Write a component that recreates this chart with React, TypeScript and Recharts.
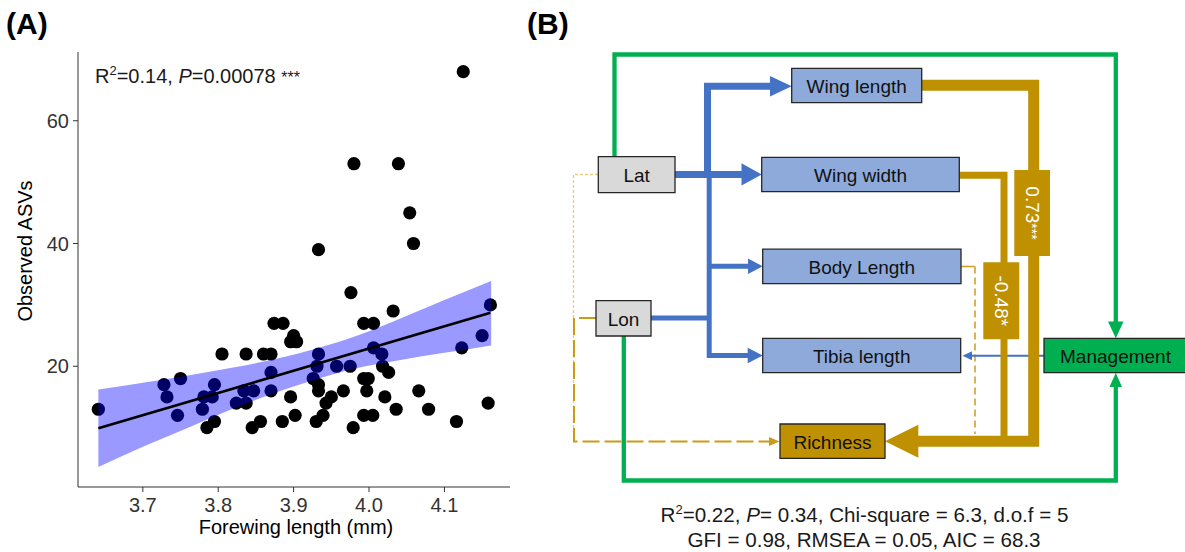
import React from "react";
import { ComposedChart, Scatter, Area, Line, XAxis, YAxis, Surface, Rectangle, Text } from "recharts";

// panel A: observed ASVs vs forewing length
const forewingLength = [
  3.641, 3.728, 3.732, 3.75, 3.746, 3.779, 3.781, 3.792, 3.795, 3.785, 3.795, 3.805,
  3.824, 3.837, 3.834, 3.847, 3.837, 3.845, 3.856, 3.86, 3.87, 3.87, 3.87, 3.874,
  3.886, 3.885, 3.896, 3.9, 3.896, 3.904, 3.902, 3.93, 3.939, 3.933, 3.931, 3.926,
  3.933, 3.933, 3.943, 3.95, 3.957, 3.966, 3.975, 3.976, 3.979, 3.993, 4.006, 3.993,
  3.999, 3.997, 3.993, 4.005, 4.006, 4.017, 4.018, 4.026, 4.021, 4.036, 4.032, 4.066,
  4.079, 4.116, 4.123, 4.15, 4.158, 4.161, 4.125, 3.98, 4.039, 4.054, 4.059, 3.933,
];
const observedAsvs = [
  13, 17, 15, 18, 12, 13, 15, 15, 17, 10, 11, 22,
  14, 14, 16, 16, 22, 10, 11, 22, 22, 19, 16, 27,
  27, 11, 15, 25, 24, 24, 12, 11, 12, 22, 20, 18,
  17, 16, 14, 15, 20, 16, 20, 32, 10, 27, 27, 18,
  18, 16, 12, 12, 23, 22, 20, 19, 15, 13, 29, 16,
  13, 11, 23, 25, 14, 30, 68, 53, 53, 45, 40, 39,
];

// confidence band and fitted line
const bandX = [3.641, 3.7, 3.76, 3.82, 3.88, 3.93, 3.98, 4.04, 4.1, 4.162];
const bandLow = [3.6, 6.9, 10.0, 13.1, 15.9, 17.9, 19.6, 21.0, 22.2, 23.4];
const bandHigh = [16.2, 17.3, 18.5, 19.8, 21.3, 22.9, 24.8, 27.7, 30.8, 33.9];
const fitX = [3.641, 4.161];
const fitY = [9.9, 28.7];

const xTicks = [3.7, 3.8, 3.9, 4.0, 4.1];
const yTicks = [20, 40, 60];

// panel B: path model
const traitNodes = ["Wing length", "Wing width", "Body Length", "Tibia length"];
const geoNodes = ["Lat", "Lon"];
const pathCoefs = ["0.73***", "-0.48*"];

const points = forewingLength.map((x, i) => ({ x, y: observedAsvs[i] }));
const bandRows = bandX.map((x, i) => ({ x, band: [bandLow[i], bandHigh[i]] }));
const fitRows = fitX.map((x, i) => ({ x, fit: fitY[i] }));

const FONT = "'Liberation Sans', Arial, sans-serif";
const BLUE = "#4472C4";
const LIGHTBLUE = "#8EAADB";
const GOLD = "#BF9000";
const GREEN = "#00B050";
const EDGE = "#262626";

const Dot = (props: any) => <circle cx={props.cx} cy={props.cy} r={6.6} fill="#000" />;

function PanelA() {
  return (
    <ComposedChart
      width={520}
      height={552}
      data={bandRows}
      margin={{ top: 52, right: 10, bottom: 35, left: 18 }}
    >
      <XAxis
        type="number"
        dataKey="x"
        domain={[3.614, 4.187]}
        ticks={xTicks}
        tickFormatter={(v) => v.toFixed(1)}
        allowDataOverflow
        height={30}
        tickSize={5}
        tickMargin={6}
        stroke="#333"
        tick={{ fill: "#333", fontSize: 20, fontFamily: FONT }}
      />
      <YAxis
        type="number"
        domain={[0.33, 71.2]}
        ticks={yTicks}
        allowDataOverflow
        width={60}
        tickSize={5}
        tickMargin={4}
        stroke="#333"
        tick={{ fill: "#333", fontSize: 20, fontFamily: FONT }}
      />
      <Scatter data={points} dataKey="y" shape={Dot} isAnimationActive={false} zIndex={50} />
      <Area
        dataKey="band"
        type="monotone"
        fill="#0000ff"
        fillOpacity={0.4}
        stroke="none"
        isAnimationActive={false}
        zIndex={100}
      />
      <Line
        data={fitRows}
        dataKey="fit"
        type="linear"
        stroke="#000"
        strokeWidth={2.6}
        dot={false}
        isAnimationActive={false}
        zIndex={400}
      />
    </ComposedChart>
  );
}

function Box({ x, y, w, h, fill, label, color = "#111" }: any) {
  return (
    <g>
      <Rectangle x={x} y={y} width={w} height={h} fill={fill} stroke={EDGE} strokeWidth={1.3} />
      <Text
        x={x + w / 2}
        y={y + h / 2 + 1}
        textAnchor="middle"
        verticalAnchor="middle"
        fontSize={19}
        fontFamily={FONT}
        fill={color}
      >
        {label}
      </Text>
    </g>
  );
}

function Overlay() {
  return (
    <Surface width={1185} height={552} style={{ position: "absolute", left: 0, top: 0 }}>
      {/* panel A texts */}
      <text x={6} y={34} fontSize={30} fontWeight="bold" fontFamily={FONT} fill="#000">(A)</text>
      <text x={95} y={83} fontSize={20} fontFamily={FONT} fill="#1a1a1a">
        R<tspan dy={-8} fontSize={13}>2</tspan>
        <tspan dy={8}>=0.14, </tspan>
        <tspan fontStyle="italic">P</tspan>=0.00078 <tspan fontSize={16}>***</tspan>
      </text>
      <text
        x={25}
        y={251}
        transform="rotate(-90 25 251)"
        textAnchor="middle"
        dominantBaseline="central"
        fontSize={20}
        fontFamily={FONT}
        fill="#000"
      >
        Observed ASVs
      </text>
      <text x={296} y={534} textAnchor="middle" fontSize={20} fontFamily={FONT} fill="#000">
        Forewing length (mm)
      </text>

      {/* panel B */}
      <text x={527} y={34} fontSize={30} fontWeight="bold" fontFamily={FONT} fill="#000">(B)</text>

      {/* green management paths */}
      <path d="M614.5 157 V54.5 H1115.8 V323" fill="none" stroke={GREEN} strokeWidth={4.3} />
      <polygon points="1108,321.5 1123.5,321.5 1115.8,338.3" fill={GREEN} />
      <path d="M623.8 336 V480.5 H1115.8 V386" fill="none" stroke={GREEN} strokeWidth={4.3} />
      <polygon points="1109.5,387 1122,387 1115.8,372.7" fill={GREEN} />

      {/* dashed non-significant paths to richness */}
      <path d="M598 174.5 H573.5 V441.5" fill="none" stroke="#EFCB7E" strokeWidth={1.3} strokeDasharray="3 2" />
      <path d="M596 318 H574 V441.5 H770" fill="none" stroke="#C99B18" strokeWidth={2} strokeDasharray="17 5" />
      <polygon points="769,437 769,446 779.5,441.5" fill="#C99B18" />
      <path d="M961 266.5 H975" fill="none" stroke="#CFA230" strokeWidth={1.6} />
      <path d="M975 266.5 V434" fill="none" stroke="#CFA230" strokeWidth={1.6} strokeDasharray="7 4" />

      {/* blue: Lat / Lon to traits */}
      <path d="M709.2 176 V355.5 H749 M709.2 266.3 H749 M651 318 H709.2" fill="none" stroke={BLUE} strokeWidth={5} />
      <path d="M675 174.4 H742 M707.5 174.4 V86.3 H771" fill="none" stroke={BLUE} strokeWidth={7} />
      <polygon points="770,76 770,96.6 791.7,86.3" fill={BLUE} />
      <polygon points="741.5,163.2 741.5,185.6 761.7,174.4" fill={BLUE} />
      <polygon points="748,258.5 748,274 762.7,266.3" fill={BLUE} />
      <polygon points="747.7,347.8 747.7,363.2 762.7,355.5" fill={BLUE} />
      <path d="M1044 355.7 H971" fill="none" stroke={BLUE} strokeWidth={2} />
      <polygon points="972,351.2 972,360.2 962.5,355.7" fill={BLUE} />

      {/* gold: significant paths to richness */}
      <path d="M921.7 85.3 H1033.7 V441.2 H917" fill="none" stroke={GOLD} strokeWidth={11} />
      <path d="M959.3 175.3 H1004 V438" fill="none" stroke={GOLD} strokeWidth={7} />
      <polygon points="918.3,424.8 918.3,457.7 885,441.2" fill={GOLD} />
      <Rectangle x={1014.3} y={170} width={35.7} height={86} fill={GOLD} />
      <Rectangle x={983.3} y={262.3} width={36} height={77} fill={GOLD} />
      <text
        x={1032.2}
        y={213}
        transform="rotate(90 1032.2 213)"
        textAnchor="middle"
        dominantBaseline="central"
        fontSize={19}
        fontFamily={FONT}
        fill="#fff"
      >
        {pathCoefs[0].replace(/\*+$/, "")}
        <tspan fontSize={14}>{pathCoefs[0].match(/\*+$/)?.[0]}</tspan>
      </text>
      <text
        x={1001.3}
        y={300.8}
        transform="rotate(90 1001.3 300.8)"
        textAnchor="middle"
        dominantBaseline="central"
        fontSize={19}
        fontFamily={FONT}
        fill="#fff"
      >
        {pathCoefs[1]}
      </text>

      {/* nodes */}
      <Box x={598.3} y={156.7} w={76.7} h={36} fill="#D9D9D9" label={geoNodes[0]} />
      <Box x={596} y={300.7} w={55} h={35.3} fill="#D9D9D9" label={geoNodes[1]} />
      <Box x={791.7} y={68.3} w={130} h={34.4} fill={LIGHTBLUE} label={traitNodes[0]} />
      <Box x={761.7} y={157.3} w={197.6} h={34.4} fill={LIGHTBLUE} label={traitNodes[1]} />
      <Box x={762.7} y={249.2} w={198.3} h={34.4} fill={LIGHTBLUE} label={traitNodes[2]} />
      <Box x={762.7} y={338.3} w={198} h={34.4} fill={LIGHTBLUE} label={traitNodes[3]} />
      <Box x={780} y={424} w={105} h={34.3} fill={GOLD} label="Richness" />
      <Box x={1044} y={338.3} w={143} h={34.4} fill={GREEN} label="Management" />

      {/* model fit statistics */}
      <text x={864.5} y={522} textAnchor="middle" fontSize={20.6} fontFamily={FONT} fill="#1a1a1a">
        R<tspan dy={-8} fontSize={13}>2</tspan>
        <tspan dy={8}>=0.22, </tspan>
        <tspan fontStyle="italic">P</tspan>= 0.34, Chi-square = 6.3, d.o.f = 5
      </text>
      <text x={864} y={547} textAnchor="middle" fontSize={20.6} fontFamily={FONT} fill="#1a1a1a">
        GFI = 0.98, RMSEA = 0.05, AIC = 68.3
      </text>
    </Surface>
  );
}

export default function App() {
  return (
    <div style={{ position: "absolute", left: 0, top: 0, width: 1185, height: 552, background: "#fff", overflow: "hidden" }}>
      <div style={{ position: "absolute", left: 0, top: 0 }}>
        <PanelA />
      </div>
      <Overlay />
    </div>
  );
}
